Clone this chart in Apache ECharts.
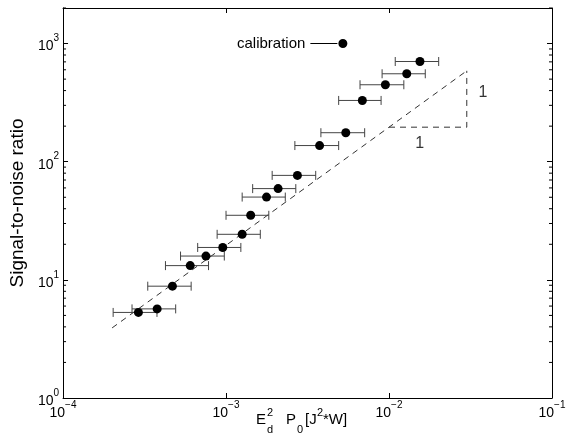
<!DOCTYPE html>
<html><head><meta charset="utf-8">
<script src="https://cdn.jsdelivr.net/npm/echarts@6/dist/echarts.min.js"></script>
<style>html,body{margin:0;padding:0;background:#fff}#c{width:572px;height:445px}</style>
</head><body><div id="c"></div>
<script>
// ---- data ----
const xVals  = [2.90e-4, 3.78e-4, 4.69e-4, 6.03e-4, 7.53e-4, 9.55e-4, 1.256e-3, 1.417e-3, 1.772e-3, 2.087e-3, 2.742e-3, 3.75e-3, 5.43e-3, 6.86e-3, 9.50e-3, 1.285e-2, 1.548e-2];
const yVals  = [5.30, 5.68, 8.84, 13.2, 15.9, 18.8, 24.3, 35.2, 50.2, 59.2, 76.6, 137, 176, 330, 448, 555, 705];
const xLow   = [2.03e-4, 2.65e-4, 3.31e-4, 4.25e-4, 5.26e-4, 6.70e-4, 8.82e-4, 1.00e-3, 1.256e-3, 1.457e-3, 1.919e-3, 2.645e-3, 3.82e-3, 4.91e-3, 6.64e-3, 9.07e-3, 1.092e-2];
const xHigh  = [3.77e-4, 4.91e-4, 6.11e-4, 7.81e-4, 9.76e-4, 1.233e-3, 1.623e-3, 1.83e-3, 2.31e-3, 2.68e-3, 3.55e-3, 4.91e-3, 7.09e-3, 8.94e-3, 1.233e-2, 1.669e-2, 2.017e-2];
const fitX   = [2e-4, 0.03];
const fitY   = [3.92, 588];
const triX   = [0.01, 0.03, 0.03];
const triY   = [196, 196, 588];
const slopeLabelX = [0.0377, 0.0154];
const slopeLabelY = [385, 143];
const slopeLabelText = ['1', '1'];
const yMinorTicks = [2,3,4,5,6,7,8,9,20,30,40,50,60,70,80,90,200,300,400,500,600,700,800,900,2000];
const xRange = [1e-4, 1e-1];
const yRange = [1, 2000];
const seriesName = 'calibration';

const FONT = 'Liberation Sans';
function powLabel(v){
  const l = Math.log10(v);
  const e = Math.round(l);
  if (Math.abs(l - e) > 1e-6) return '';
  return '{b|10}{s|' + (e < 0 ? '\u2212' + (-e) : e) + '}';
}
const rich = {
  b: {fontSize: 14, lineHeight: 20, verticalAlign: 'bottom', fontFamily: FONT, color: '#000'},
  s: {fontSize: 10, lineHeight: 10, verticalAlign: 'top', fontFamily: FONT, color: '#000'}
};
const axisLineStyle = {color: '#000', width: 1};

const points = xVals.map((x, i) => [x, yVals[i]]);
const bars = xVals.map((x, i) => [x, yVals[i], xLow[i], xHigh[i]]);

const chart = echarts.init(document.getElementById('c'), null, {renderer: 'canvas'});
chart.setOption({
  animation: false,
  backgroundColor: '#fff',
  grid: {left: 57, right: 20, top: 8, bottom: 47, containLabel: false},
  legend: {
    left: 237, top: 36, align: 'right', selectedMode: false, padding: 0,
    itemWidth: 37, itemHeight: 9,
    icon: 'path://M0,4.6h27v0.8h-27z M37,5a4.5,4.5 0 1,1 -9,0a4.5,4.5 0 1,1 9,0z',
    itemStyle: {opacity: 1},
    textStyle: {fontSize: 15, fontFamily: FONT, color: '#000'},
    data: [seriesName]
  },
  xAxis: [
    {type: 'log', logBase: 10, min: xRange[0], max: xRange[1], position: 'bottom',
     axisLine: {show: true, lineStyle: axisLineStyle},
     axisTick: {show: true, inside: true, length: 5, lineStyle: axisLineStyle},
     axisLabel: {formatter: powLabel, rich: rich, margin: 2, showMinLabel: true, showMaxLabel: true},
     splitLine: {show: false}, minorTick: {show: false}},
    {type: 'log', logBase: 10, min: xRange[0], max: xRange[1], position: 'top',
     axisLine: {show: true, lineStyle: axisLineStyle},
     axisTick: {show: true, inside: true, length: 5, lineStyle: axisLineStyle},
     axisLabel: {show: false}, splitLine: {show: false}}
  ],
  yAxis: [
    {type: 'log', logBase: 10, min: yRange[0], max: yRange[1], position: 'left',
     name: 'Signal-to-noise ratio', nameLocation: 'middle', nameGap: 28,
     nameTextStyle: {fontSize: 19, fontFamily: FONT, color: '#000'},
     axisLine: {show: true, lineStyle: axisLineStyle},
     axisTick: {show: true, inside: true, length: 5, lineStyle: axisLineStyle},
     axisLabel: {formatter: powLabel, rich: rich, margin: 4, showMinLabel: true, showMaxLabel: true},
     splitLine: {show: false}},
    {type: 'log', logBase: 10, min: yRange[0], max: yRange[1], position: 'right',
     axisLine: {show: true, lineStyle: axisLineStyle},
     axisTick: {show: true, inside: true, length: 5, lineStyle: axisLineStyle},
     axisLabel: {show: false}, splitLine: {show: false}}
  ],
  graphic: [
    {type: 'text', x: 256, y: 420, style: {text: 'E', fontSize: 15, fontFamily: FONT, fill: '#000', verticalAlign: 'middle'}},
    {type: 'text', x: 267, y: 413, style: {text: '2', fontSize: 11, fontFamily: FONT, fill: '#000', verticalAlign: 'middle'}},
    {type: 'text', x: 267, y: 430, style: {text: 'd', fontSize: 11, fontFamily: FONT, fill: '#000', verticalAlign: 'middle'}},
    {type: 'text', x: 286, y: 420, style: {text: 'P', fontSize: 15, fontFamily: FONT, fill: '#000', verticalAlign: 'middle'}},
    {type: 'text', x: 297, y: 430, style: {text: '0', fontSize: 11, fontFamily: FONT, fill: '#000', verticalAlign: 'middle'}},
    {type: 'text', x: 305, y: 420, style: {text: '[J', fontSize: 15, fontFamily: FONT, fill: '#000', verticalAlign: 'middle'}},
    {type: 'text', x: 317, y: 413, style: {text: '2', fontSize: 11, fontFamily: FONT, fill: '#000', verticalAlign: 'middle'}},
    {type: 'text', x: 323, y: 420, style: {text: '*W]', fontSize: 15, fontFamily: FONT, fill: '#000', verticalAlign: 'middle'}}
  ],
  series: [
    {type: 'custom', name: 'minorTicks', silent: true, z: 1,
     data: yMinorTicks.map(v => [xRange[0], v]),
     encode: {x: 0, y: 1},
     renderItem: function(params, api){
       const v = api.value(1);
       const l = api.coord([xRange[0], v]);
       const r = api.coord([xRange[1], v]);
       return {type: 'group', children: [
         {type: 'line', shape: {x1: l[0], y1: l[1], x2: l[0] + 3, y2: l[1]}, style: {stroke: '#000', lineWidth: 1}},
         {type: 'line', shape: {x1: r[0], y1: r[1], x2: r[0] - 3, y2: r[1]}, style: {stroke: '#000', lineWidth: 1}}
       ]};
     }},
    {type: 'line', name: 'fit', data: fitX.map((x, i) => [x, fitY[i]]), showSymbol: false, silent: true,
     lineStyle: {color: '#333', width: 1, type: [6, 5]}, z: 2},
    {type: 'line', name: 'slope', data: triX.map((x, i) => [x, triY[i]]), showSymbol: false, silent: true,
     lineStyle: {color: '#333', width: 1, type: [6, 5]}, z: 2},
    {type: 'scatter', name: 'slopeLabels', silent: true, symbolSize: 0,
     data: slopeLabelX.map((x, i) => ({value: [x, slopeLabelY[i]], label: {formatter: slopeLabelText[i]}})),
     label: {show: true, position: 'inside', fontSize: 16, fontFamily: FONT, color: '#000'}},
    {type: 'custom', name: 'errorbars', silent: true, z: 3,
     data: bars, encode: {x: 0, y: 1},
     renderItem: function(params, api){
       const y = api.value(1);
       const a = api.coord([api.value(2), y]);
       const b = api.coord([api.value(3), y]);
       const h = 4.5;
       const st = {stroke: '#444', lineWidth: 1};
       return {type: 'group', children: [
         {type: 'line', shape: {x1: a[0], y1: a[1], x2: b[0], y2: b[1]}, style: st},
         {type: 'line', shape: {x1: a[0], y1: a[1] - h, x2: a[0], y2: a[1] + h}, style: st},
         {type: 'line', shape: {x1: b[0], y1: b[1] - h, x2: b[0], y2: b[1] + h}, style: st}
       ]};
     }},
    {type: 'scatter', name: seriesName, data: points, symbol: 'circle', symbolSize: 9,
     itemStyle: {color: '#000', opacity: 1}, z: 5}
  ]
});
</script></body></html>
